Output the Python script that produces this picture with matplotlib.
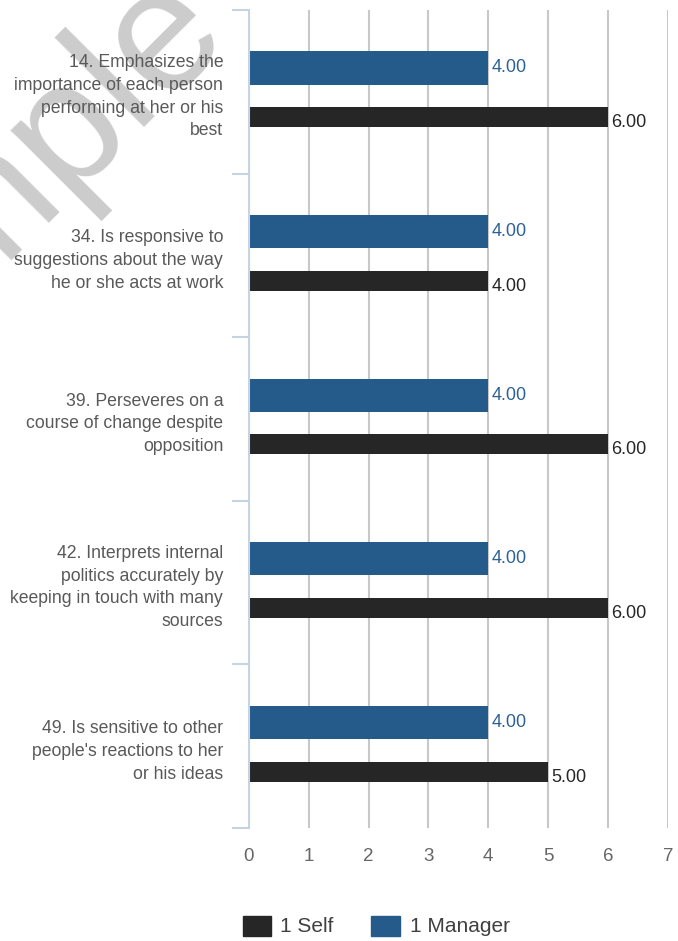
import numpy as np
import matplotlib.pyplot as plt

plt.rcParams["font.family"] = ["Liberation Sans", "DejaVu Sans"]

items = [
    "14. Emphasizes the\nimportance of each person\nperforming at her or his\nbest",
    "34. Is responsive to\nsuggestions about the way\nhe or she acts at work",
    "39. Perseveres on a\ncourse of change despite\nopposition",
    "42. Interprets internal\npolitics accurately by\nkeeping in touch with many\nsources",
    "49. Is sensitive to other\npeople's reactions to her\nor his ideas",
]
manager = [4, 4, 4, 4, 4]
self_scores = [6, 4, 6, 6, 5]
xticks = [0, 1, 2, 3, 4, 5, 6, 7]

blue = "#245b8a"
black = "#262626"
axis_col = "#c5d3e3"

fig = plt.figure(figsize=(6.78, 9.41), dpi=100)
ax = fig.add_axes([0.367, 0.120, 0.618, 0.8695])
ax.patch.set_visible(False)

pos = np.arange(len(items))
ax.barh(pos + 0.355, manager, height=0.202, color=blue, zorder=3)
ax.barh(pos + 0.655, self_scores, height=0.122, color=black, zorder=3)

for i in pos:
    ax.text(manager[i] + 0.05, i + 0.355, f"{manager[i]:.2f}", va="center", ha="left",
            fontsize=13, color="#2e6296", zorder=4)
    ax.text(self_scores[i] + 0.05, i + 0.716, f"{self_scores[i]:.2f}", va="baseline", ha="left",
            fontsize=13, color=black, zorder=4)

ax.set_xlim(0, 7)
ax.set_ylim(len(items), 0)
ax.set_xticks(xticks)
ax.set_xticklabels([str(t) for t in xticks], fontsize=13.5, color="#666666")
ax.tick_params(axis="x", length=0, pad=14)

# category boundaries as ticks, labels in the middle
ax.set_yticks(np.arange(len(items) + 1))
ax.set_yticklabels([])
ax.tick_params(axis="y", length=12, width=1.5, color=axis_col, direction="out")
ax.set_yticks(pos + 0.5, minor=True)
ax.set_yticklabels(items, minor=True, fontsize=12.7, color="#595959", linespacing=1.45)
ax.tick_params(axis="y", which="minor", length=0, pad=18.5)

ax.grid(axis="x", color="#c8c8c8", linewidth=1.5, zorder=0)
for s in ["top", "right", "bottom"]:
    ax.spines[s].set_visible(False)
ax.spines["left"].set_color(axis_col)
ax.spines["left"].set_linewidth(1.5)
ax.spines["left"].set_zorder(5)

# legend
fig.patches.append(plt.Rectangle((243 / 678, 1 - 936 / 941), 28 / 678, 20 / 941,
                                 transform=fig.transFigure, color=black))
fig.text(280 / 678, 1 - 927 / 941, "1 Self", fontsize=15, color="#404040", va="center")
fig.patches.append(plt.Rectangle((371 / 678, 1 - 936 / 941), 29 / 678, 20 / 941,
                                 transform=fig.transFigure, color=blue))
fig.text(410 / 678, 1 - 927 / 941, "1 Manager", fontsize=15, color="#404040", va="center")

# watermark
fig.text(230 / 678, 1 - 34 / 941, "Sample", fontsize=125, color="#cccccc", rotation=45,
         ha="right", va="baseline", rotation_mode="anchor", zorder=-1)

fig.savefig("out.png", dpi=100)
